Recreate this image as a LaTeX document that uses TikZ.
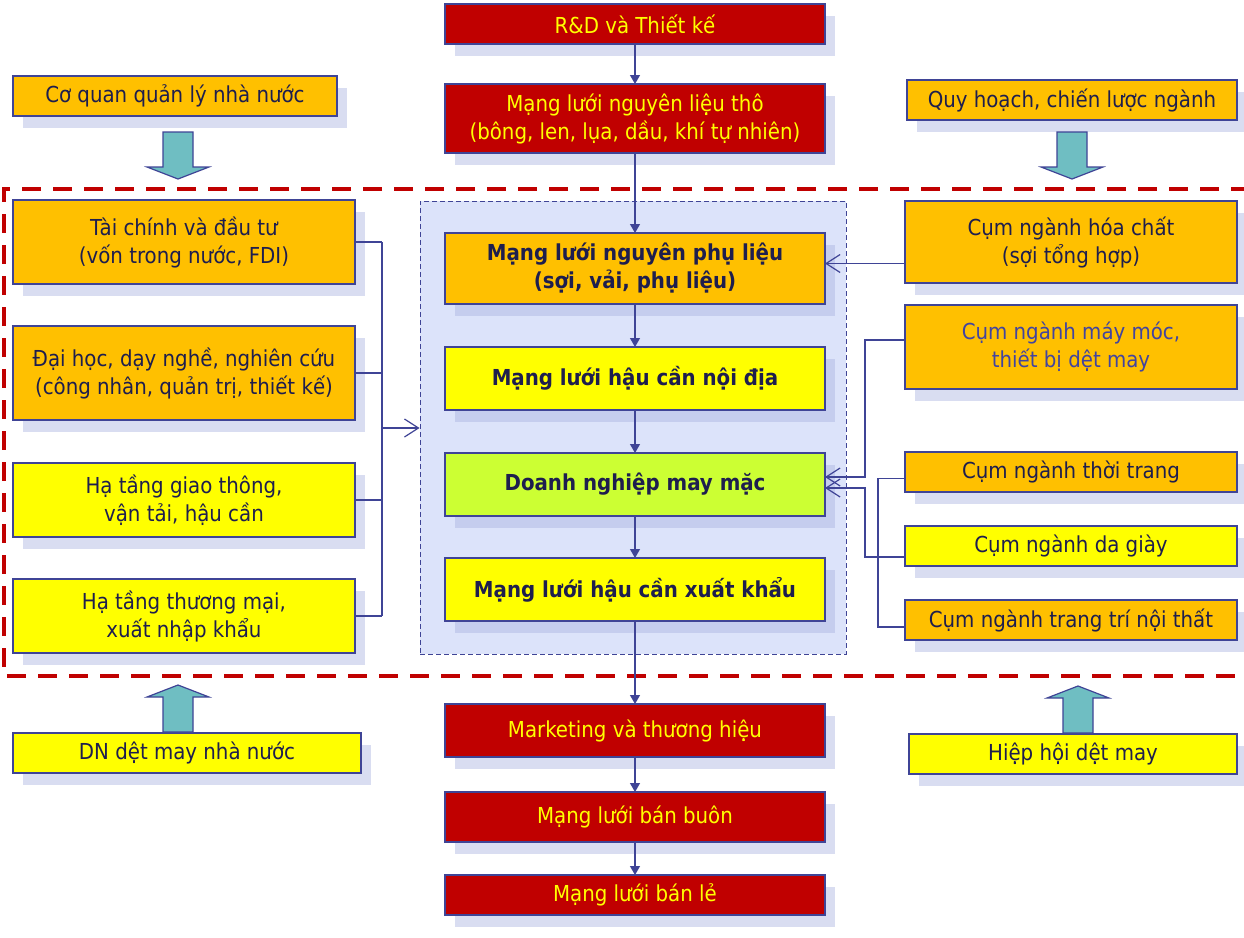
\documentclass[tikz,border=0pt]{standalone}
\usepackage{fontspec}
\IfFontExistsTF{DejaVu Sans Condensed}{\setmainfont{DejaVu Sans Condensed}}{\setmainfont{DejaVu Sans}}
\usetikzlibrary{arrows.meta,positioning,calc,shadows}
\definecolor{vnred}{HTML}{C00000}
\definecolor{vnyel}{HTML}{FFFF00}
\definecolor{vnorg}{HTML}{FFC000}
\definecolor{vnlime}{HTML}{CCFF33}
\definecolor{vnink}{HTML}{3F4496}
\definecolor{vntext}{HTML}{1E1E4E}
\definecolor{vnmute}{HTML}{4244A0}
\definecolor{vnshade}{HTML}{D9DDF1}
\definecolor{vnshadein}{HTML}{C5CDEE}
\definecolor{vnpanel}{HTML}{DCE3FA}
\definecolor{vnteal}{HTML}{6FBEC2}
\newcommand{\fatarrow}[4]{% x, tail y, head base y, tip y
  \draw[fat] ({#1-15},#2) -- ({#1+15},#2) -- ({#1+15},#3) -- ({#1+31},#3) -- (#1,#4) -- ({#1-31},#3) -- ({#1-15},#3) -- cycle;}
\newcommand{\vnfont}{\fontsize{22}{28}\selectfont}
\tikzset{
  bx/.style={draw=vnink, line width=1.2pt, align=center, text=vntext, inner sep=1pt, outer sep=0pt},
  sh/.style={drop shadow={shadow xshift=10pt, shadow yshift=-12pt, fill=vnshade, opacity=1}},
  shin/.style={drop shadow={shadow xshift=10pt, shadow yshift=-12pt, fill=vnshadein, opacity=1}},
  rbox/.style={bx, sh, fill=vnred, text=vnyel, minimum width=380pt},
  obox/.style={bx, sh, fill=vnorg},
  ybox/.style={bx, sh, fill=vnyel},
  cbox/.style={bx, shin, minimum width=380pt, minimum height=63pt, font=\vnfont\bfseries},
  panel/.style={draw=vnink, dash pattern=on 5pt off 3pt, line width=0.9pt, fill=vnpanel},
  redframe/.style={draw=vnred, line width=3.5pt, dash pattern=on 19pt off 12pt},
  ln/.style={draw=vnink, line width=1.2pt},
  arr/.style={ln, -{Triangle[length=9pt,width=10pt]}},
  opn/.style={ln, -{Straight Barb[length=14pt, width=18pt]}},
  fat/.style={draw=vnink, line width=1.2pt, fill=vnteal, line join=miter},
}
\begin{document}
\begin{tikzpicture}[x=1pt, y=-1pt, font=\vnfont]
  \useasboundingbox[fill=white] (0,0) rectangle (1244,937);
  % cluster frame and core panel
  \draw[redframe] (1250,189) -- (4,189) -- (4,676) -- (1250,676);
  \node[panel, minimum width=426pt, minimum height=453pt] (core) at (633,427.5) {};
  % upstream chain
  \node[rbox, minimum height=40pt] (rd) at (635,24) {R\&D và Thiết kế};
  \node[rbox, minimum height=69pt] (raw) at (635,118.5) {Mạng lưới nguyên liệu thô\\(bông, len, lụa, dầu, khí tự nhiên)};
  \node[obox, minimum width=324pt, minimum height=40pt] (cq) at (175,96) {Cơ quan quản lý nhà nước};
  \node[obox, minimum width=330pt, minimum height=40pt] (qh) at (1072,100) {Quy hoạch, chiến lược ngành};
  % left support
  \node[obox, minimum width=342pt, minimum height=84pt] (tc) at (184,242) {Tài chính và đầu tư\\(vốn trong nước, FDI)};
  \node[obox, minimum width=342pt, minimum height=94pt] (dh) at (184,373) {Đại học, dạy nghề, nghiên cứu\\(công nhân, quản trị, thiết kế)};
  \node[ybox, minimum width=342pt, minimum height=74pt] (gt) at (184,500) {Hạ tầng giao thông,\\vận tải, hậu cần};
  \node[ybox, minimum width=342pt, minimum height=74pt] (tm) at (184,616) {Hạ tầng thương mại,\\xuất nhập khẩu};
  % core chain
  \node[cbox, fill=vnorg, minimum height=71pt] (npl) at (635,268.5) {Mạng lưới nguyên phụ liệu\\(sợi, vải, phụ liệu)};
  \node[cbox, fill=vnyel] (nd) at (635,378.5) {Mạng lưới hậu cần nội địa};
  \node[cbox, fill=vnlime] (dn) at (635,484.5) {Doanh nghiệp may mặc};
  \node[cbox, fill=vnyel] (xk) at (635,589.5) {Mạng lưới hậu cần xuất khẩu};
  % related clusters
  \node[obox, minimum width=332pt, minimum height=82pt] (hc) at (1071,242) {Cụm ngành hóa chất\\(sợi tổng hợp)};
  \node[obox, minimum width=332pt, minimum height=84pt, text=vnmute] (mm) at (1071,347) {Cụm ngành máy móc,\\thiết bị dệt may};
  \node[obox, minimum width=332pt, minimum height=40pt] (tt) at (1071,472) {Cụm ngành thời trang};
  \node[ybox, minimum width=332pt, minimum height=40pt] (dg) at (1071,546) {Cụm ngành da giày};
  \node[obox, minimum width=332pt, minimum height=40pt] (nt) at (1071,620) {Cụm ngành trang trí nội thất};
  % downstream chain
  \node[ybox, minimum width=348pt, minimum height=40pt] (dnn) at (187,753) {DN dệt may nhà nước};
  \node[ybox, minimum width=328pt, minimum height=40pt] (hh) at (1073,754) {Hiệp hội dệt may};
  \node[rbox, minimum height=53pt] (mk) at (635,730.5) {Marketing và thương hiệu};
  \node[rbox, minimum height=50pt] (bb) at (635,817) {Mạng lưới bán buôn};
  \node[rbox, minimum height=40pt] (bl) at (635,895) {Mạng lưới bán lẻ};
  % value chain arrows
  \draw[arr] (rd) -- (raw);
  \draw[arr] (raw) -- (npl);
  \draw[arr] (npl) -- (nd);
  \draw[arr] (nd) -- (dn);
  \draw[arr] (dn) -- (xk);
  \draw[arr] (xk) -- (mk);
  \draw[arr] (mk) -- (bb);
  \draw[arr] (bb) -- (bl);
  % left bus
  \coordinate (lbus) at (382,428);
  \foreach \n in {tc,dh,gt,tm} \draw[ln] (\n.east) -- (\n.east -| lbus);
  \draw[ln] (tc.east -| lbus) -- (tm.east -| lbus);
  \draw[opn] (lbus) -- (lbus -| core.west);
  % right clusters
  \coordinate (rbus) at (865,0);
  \coordinate (rbus2) at (878,0);
  \coordinate (dnin1) at ($(dn.east)+(0,-7.5)$);
  \coordinate (dnin2) at ($(dn.east)+(0,3.5)$);
  \draw[opn] ($(hc.west |- npl.east)+(0,-5)$) -- ($(npl.east)+(0,-5)$);
  \draw[opn] ($(mm.west)+(0,-7)$) -| (dnin1 -| rbus) -- (dnin1);
  \draw[opn] ($(dg.west)+(0,11)$) -| (dnin2 -| rbus) -- (dnin2);
  \draw[ln] ($(tt.west)+(0,6.5)$) -| ($(nt.west -| rbus2)+(0,7)$) -- ($(nt.west)+(0,7)$);
  % policy arrows
  \fatarrow{178}{132}{167}{179}
  \fatarrow{1072}{132}{167}{179}
  \fatarrow{178}{732}{697}{685}
  \fatarrow{1078}{733}{698}{686}
\end{tikzpicture}
\end{document}
